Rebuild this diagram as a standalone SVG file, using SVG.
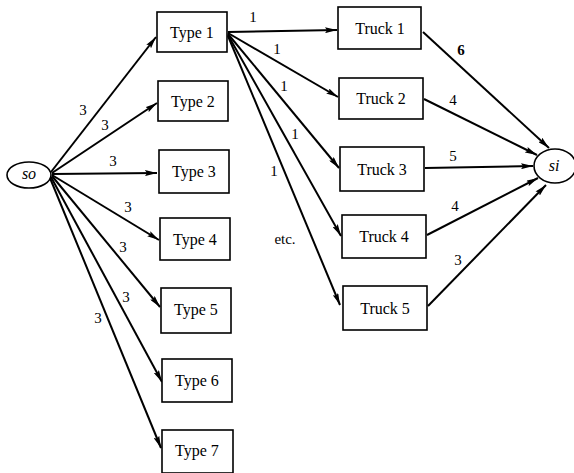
<svg xmlns="http://www.w3.org/2000/svg" width="574" height="473" viewBox="0 0 574 473">
<style>
.box{fill:#fff;stroke:#000;stroke-width:1.6}
.lbl{font-family:"Liberation Serif",serif;font-size:16px;text-anchor:middle;fill:#000}
.it{font-family:"Liberation Serif",serif;font-size:16px;font-style:italic;text-anchor:middle;fill:#000}
.num{font-family:"Liberation Serif",serif;font-size:15px;text-anchor:middle;fill:#000}
.edge{stroke:#000;stroke-width:2;fill:none;marker-end:url(#ah)}
</style>
<defs>
<marker id="ah" viewBox="0 0 12 6" refX="12" refY="3" markerWidth="12" markerHeight="6" markerUnits="userSpaceOnUse" orient="auto">
<path d="M0,0 L12,3 L0,6 L2,3 z" fill="#000"/>
</marker>
</defs>
<rect width="574" height="473" fill="#fff"/>
<g id="connectors">
<line class="edge" x1="51" y1="172" x2="156" y2="37"/>
<line class="edge" x1="52" y1="173" x2="157" y2="103"/>
<line class="edge" x1="52" y1="174" x2="157" y2="173"/>
<line class="edge" x1="52" y1="175" x2="159" y2="240"/>
<line class="edge" x1="52" y1="176" x2="160" y2="307"/>
<line class="edge" x1="51" y1="177" x2="162" y2="382"/>
<line class="edge" x1="50" y1="178" x2="161" y2="448"/>
<line class="edge" x1="228" y1="32" x2="337" y2="30"/>
<line class="edge" x1="228" y1="33" x2="338" y2="97"/>
<line class="edge" x1="228" y1="34" x2="339" y2="168"/>
<line class="edge" x1="228" y1="35" x2="341" y2="236"/>
<line class="edge" x1="228" y1="36" x2="340" y2="305"/>
<line class="edge" x1="423" y1="32" x2="549" y2="148"/>
<line class="edge" x1="424" y1="99" x2="537" y2="155"/>
<line class="edge" x1="425" y1="168" x2="533" y2="166"/>
<line class="edge" x1="427" y1="235" x2="538" y2="178"/>
<line class="edge" x1="428" y1="306" x2="546" y2="185"/>
<text class="num" x="83" y="115">3</text>
<text class="num" x="105" y="130">3</text>
<text class="num" x="113" y="166">3</text>
<text class="num" x="128" y="212">3</text>
<text class="num" x="123" y="252">3</text>
<text class="num" x="126" y="302">3</text>
<text class="num" x="98" y="323">3</text>
<text class="num" x="253" y="22">1</text>
<text class="num" x="277" y="54">1</text>
<text class="num" x="284" y="91">1</text>
<text class="num" x="295" y="139">1</text>
<text class="num" x="274" y="176">1</text>
<text class="num" x="285" y="244">etc.</text>
<text class="num" x="461" y="55" font-weight="bold">6</text>
<text class="num" x="453" y="105">4</text>
<text class="num" x="453" y="161">5</text>
<text class="num" x="455" y="211">4</text>
<text class="num" x="458" y="265">3</text>
</g>
<g id="so"><ellipse cx="29" cy="175" rx="22" ry="13" fill="#fff" stroke="#000" stroke-width="1.6"/><text class="it" x="29" y="179">so</text></g>
<g id="si"><ellipse cx="555" cy="166" rx="21" ry="17" fill="#fff" stroke="#000" stroke-width="1.6"/><text class="it" x="554" y="171">si</text></g>
<g id="type1"><rect class="box" x="157" y="12" width="70" height="40"/><text class="lbl" x="192" y="38">Type 1</text></g>
<g id="type2"><rect class="box" x="158" y="81" width="70" height="40"/><text class="lbl" x="193" y="107">Type 2</text></g>
<g id="type3"><rect class="box" x="159" y="150" width="70" height="43"/><text class="lbl" x="194" y="177">Type 3</text></g>
<g id="type4"><rect class="box" x="160" y="218" width="70" height="42"/><text class="lbl" x="195" y="245">Type 4</text></g>
<g id="type5"><rect class="box" x="161" y="288" width="70" height="45"/><text class="lbl" x="196" y="315">Type 5</text></g>
<g id="type6"><rect class="box" x="162" y="359" width="70" height="43"/><text class="lbl" x="197" y="386">Type 6</text></g>
<g id="type7"><rect class="box" x="162" y="430" width="71" height="43"/><text class="lbl" x="197" y="456">Type 7</text></g>
<g id="truck1"><rect class="box" x="338" y="7" width="83" height="42"/><text class="lbl" x="380" y="34">Truck 1</text></g>
<g id="truck2"><rect class="box" x="339" y="78" width="84" height="41"/><text class="lbl" x="381" y="104">Truck 2</text></g>
<g id="truck3"><rect class="box" x="340" y="147" width="84" height="44"/><text class="lbl" x="382" y="175">Truck 3</text></g>
<g id="truck4"><rect class="box" x="342" y="215" width="84" height="43"/><text class="lbl" x="384" y="242">Truck 4</text></g>
<g id="truck5"><rect class="box" x="343" y="286" width="84" height="44"/><text class="lbl" x="385" y="314">Truck 5</text></g>
</svg>
